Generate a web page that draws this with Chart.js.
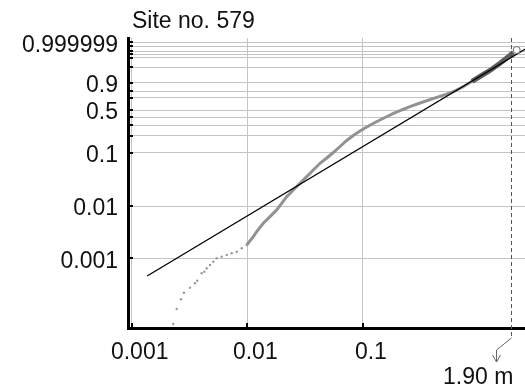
<!DOCTYPE html>
<html>
<head>
<meta charset="utf-8">
<script src="https://cdn.jsdelivr.net/npm/chart.js@4/dist/chart.umd.min.js"></script>
<style>
  html, body { margin: 0; padding: 0; background: #fff; overflow: hidden; }
  canvas { display: block; }
</style>
</head>
<body>
<canvas id="probChart" width="525" height="389"></canvas>
<script>
// Weibull probability paper, site 579
var titleText = "Site no. 579";
var markerText = "1.90 m";
var markerValue = 1.90;

var xTickValues = [0.001, 0.01, 0.1];
var xTickLabels = ["0.001", "0.01", "0.1"];

var yGridProbs = [0.001, 0.01, 0.1, 0.2, 0.3, 0.4, 0.5, 0.7, 0.8, 0.9, 0.99, 0.999, 0.9997, 0.9999, 0.99999, 0.999999];
var yTickLabels = ["0.001", "0.01", "0.1", "", "", "", "0.5", "", "", "0.9", "", "", "", "", "", "0.999999"];

// lower tail, sparse points
var tailX = [0.00229, 0.00245, 0.00267, 0.00283, 0.00319, 0.00353, 0.00369, 0.00403, 0.00425, 0.00445,
             0.00476, 0.00508, 0.00544, 0.00601, 0.00664, 0.00733, 0.00810, 0.00895, 0.00988];
var tailP = [0.000055, 0.000107, 0.000164, 0.000219, 0.000274, 0.000332, 0.000372, 0.000516, 0.000554, 0.000643,
             0.000744, 0.000861, 0.00100, 0.001073, 0.001158, 0.001248, 0.001338, 0.001555, 0.00180];

// main body of the sample, dense points
var bodyX = [0.00988, 0.01127, 0.01206, 0.01375, 0.01572, 0.01795, 0.02193, 0.02500, 0.02857, 0.03266,
             0.03724, 0.04256, 0.04864, 0.05546, 0.06339, 0.07244, 0.08260, 0.09440, 0.1079, 0.1298,
             0.1553, 0.1821, 0.2167, 0.2555, 0.3119, 0.4348, 0.5236, 0.6260, 0.7494, 0.8786];
var bodyP = [0.00180, 0.002594, 0.003235, 0.004687, 0.006272, 0.008431, 0.01505, 0.02019, 0.02703, 0.03601,
             0.04808, 0.06409, 0.0803, 0.1011, 0.1298, 0.1657, 0.2022, 0.2409, 0.2801, 0.3362,
             0.3936, 0.4462, 0.5016, 0.5529, 0.6122, 0.7045, 0.7512, 0.8029, 0.8619, 0.9154];

// upper tail, overlapping points
var topX = [0.8786, 1.030, 1.257, 1.535, 1.811, 2.000];
var topP = [0.9154, 0.9528, 0.98129, 0.99588, 0.99931, 0.999850];

var maxX = [2.140];
var maxP = [0.999946];

// fitted Weibull line end points
var fitX = [0.00136, 2.6];
var fitP = [0.000458, 0.999974];

function wb(p) { return Math.log(-Math.log(1 - p)); }
function pts(xs, ps) {
  return xs.map(function(x, i) { return { x: x, y: wb(ps[i]) }; });
}

var fontFam = "'Liberation Sans', Arial, sans-serif";

var extras = {
  id: 'extras',
  afterDraw: function(chart) {
    var ctx = chart.ctx;
    var a = chart.chartArea;
    var xs = chart.scales.x, ys = chart.scales.y;
    ctx.save();
    // inner tick marks
    ctx.strokeStyle = '#000';
    ctx.lineWidth = 2;
    ys.ticks.forEach(function(t) {
      var py = Math.round(ys.getPixelForValue(t.value));
      ctx.beginPath(); ctx.moveTo(a.left, py); ctx.lineTo(a.left + 5, py); ctx.stroke();
    });
    xs.ticks.forEach(function(t) {
      var px = Math.round(xs.getPixelForValue(t.value));
      ctx.beginPath(); ctx.moveTo(px, a.bottom); ctx.lineTo(px, a.bottom - 5); ctx.stroke();
    });
    // dashed marker line
    var mx = Math.round(xs.getPixelForValue(markerValue)) + 0.5;
    ctx.strokeStyle = '#555';
    ctx.lineWidth = 1;
    ctx.setLineDash([4, 3]);
    ctx.beginPath(); ctx.moveTo(mx, a.top); ctx.lineTo(mx, a.bottom + 10); ctx.stroke();
    ctx.setLineDash([]);
    ctx.strokeStyle = '#666';
    ctx.beginPath();
    ctx.moveTo(mx, a.bottom + 10);
    ctx.lineTo(mx - 15, a.bottom + 22);
    ctx.lineTo(mx - 15, a.bottom + 34);
    ctx.stroke();
    ctx.beginPath();
    ctx.moveTo(mx - 19, a.bottom + 27);
    ctx.lineTo(mx - 15, a.bottom + 34);
    ctx.lineTo(mx - 11, a.bottom + 27);
    ctx.stroke();
    // texts
    ctx.fillStyle = '#111';
    ctx.font = '23px ' + fontFam;
    ctx.textAlign = 'left';
    ctx.textBaseline = 'alphabetic';
    ctx.fillText(titleText, 132, 28);
    ctx.fillText(markerText, 443, 384);
    ctx.restore();
  }
};

new Chart(document.getElementById('probChart'), {
  type: 'scatter',
  data: {
    datasets: [
      {
        data: pts(fitX, fitP), showLine: true, borderColor: '#000', borderWidth: 1.3,
        pointRadius: 0, order: 1
      },
      {
        data: pts(tailX, tailP), showLine: false, pointRadius: 1.2, pointBorderWidth: 0,
        backgroundColor: '#999', order: 3
      },
      {
        data: pts(bodyX, bodyP), showLine: true, borderColor: '#929292', borderWidth: 3,
        pointRadius: 0, order: 3
      },
      {
        data: pts(topX, topP), showLine: true, borderColor: '#5c5c5c', borderWidth: 5,
        pointRadius: 0, order: 2
      },
      {
        data: pts(maxX, maxP), showLine: false, pointRadius: 3.5, pointBorderWidth: 1,
        borderColor: '#666', backgroundColor: '#fff', order: 0
      }
    ]
  },
  options: {
    responsive: false,
    animation: false,
    events: [],
    layout: { autoPadding: false, padding: { top: 38, right: 0, bottom: 0, left: 0 } },
    plugins: { legend: { display: false }, title: { display: false }, tooltip: { enabled: false } },
    scales: {
      x: {
        type: 'logarithmic',
        min: 0.000929, max: 2.525,
        afterBuildTicks: function(s) { s.ticks = xTickValues.map(function(v) { return { value: v }; }); },
        afterFit: function(s) { s.height = 61; s.paddingLeft = 0; s.paddingRight = 0; },
        grid: { color: '#c4c4c4', lineWidth: 1, drawTicks: false },
        border: { color: '#000', width: 3 },
        ticks: {
          autoSkip: false, maxRotation: 0, padding: 11, labelOffset: 8, color: '#111',
          font: { family: fontFam, size: 23 },
          callback: function(v, i) { return xTickLabels[i]; }
        }
      },
      y: {
        type: 'linear',
        min: -9.983, max: 2.815,
        afterBuildTicks: function(s) { s.ticks = yGridProbs.map(function(p) { return { value: wb(p) }; }); },
        afterFit: function(s) { s.width = 128; s.paddingTop = 0; s.paddingBottom = 0; },
        grid: { color: '#c4c4c4', lineWidth: 1, drawTicks: false },
        border: { color: '#000', width: 3 },
        ticks: {
          autoSkip: false, padding: 10, labelOffset: 3, color: '#111',
          font: { family: fontFam, size: 23 },
          callback: function(v, i) { return yTickLabels[i]; }
        }
      }
    }
  },
  plugins: [extras]
});
</script>
</body>
</html>
